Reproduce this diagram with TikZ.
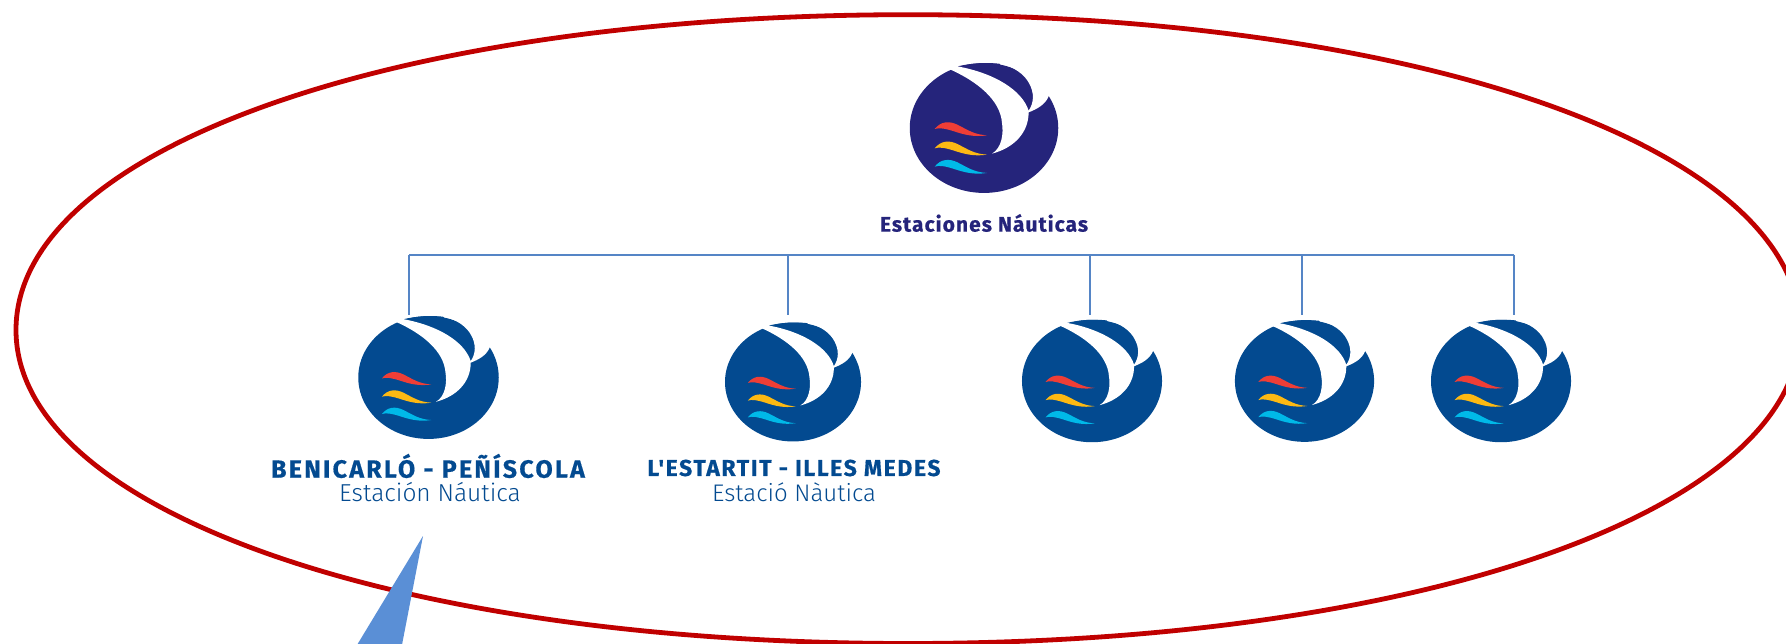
\documentclass[tikz,border=0pt]{standalone}
\usepackage{fontspec}
\setmainfont{Fira Sans}
\newfontfamily\lightfont{Fira Sans Light}
\newfontfamily\titlefont[LetterSpace=5,BoldFeatures={FakeBold=0.5}]{Fira Sans}
\newfontfamily\wideAfont[LetterSpace=9,BoldFeatures={FakeBold=0.5}]{Fira Sans}
\newfontfamily\wideBfont[LetterSpace=7,BoldFeatures={FakeBold=0.5}]{Fira Sans}
\definecolor{logonavy}{HTML}{25247B}
\definecolor{logoblue}{HTML}{034A90}
\definecolor{wavered}{HTML}{EF3E36}
\definecolor{waveyellow}{HTML}{FDB913}
\definecolor{wavecyan}{HTML}{00B9E8}
\definecolor{ringred}{HTML}{C00000}
\definecolor{busblue}{HTML}{5585C6}
\definecolor{pointerblue}{HTML}{5A8FD6}
\tikzset{
	busline/.style={busblue,line width=2pt},
	namelabel/.style={inner sep=0pt,text=logoblue},
	sublabel/.style={inner sep=0pt,text=logoblue},
	pics/logo/.style={code={
		\fill[#1] (0,0) ellipse [x radius=223, y radius=195];
		\fill[#1] (-79,-185) .. controls (-40,-195) and (10,-197) .. (47,-193) -- (100,-100) -- cycle;
		\fill[white] (-104,-177) -- (-86,-215) -- (-79,-185) .. controls (29,-165) and (114,-115) .. (134,-52)
			.. controls (150,-75) and (152,-105) .. (135,-135) .. controls (122,-160) and (90,-185) .. (47,-193)
			-- (47,-215) -- (225,-215) -- (225,-130) -- (194,-95)
			.. controls (184,-70) and (159,-57) .. (134,-47) .. controls (134,15) and (89,60) .. (24,77)
			.. controls (54,60) and (59,15) .. (54,-15) .. controls (49,-85) and (-21,-140) .. (-104,-177) -- cycle;
		\foreach \wavecolor/\waveshift in {wavered/0,waveyellow/58,wavecyan/113}
			\fill[\wavecolor,shift={(0,\waveshift)}] (-148,3) .. controls (-130,-20) and (-105,-22) .. (-80,-10)
				.. controls (-50,5) and (-30,20) .. (9,22) .. controls (-30,28) and (-60,20) .. (-90,10)
				.. controls (-115,2) and (-135,-2) .. (-148,3) -- cycle;
	}}
}
\begin{document}
\begin{tikzpicture}[x=1pt,y=-1pt]
	\path[use as bounding box,clip] (0,0) rectangle (1786,644);
	\draw[ringred,line width=4.8pt] (16,330) .. controls (16,148.7) and (395,14.7) .. (908,14.7)
		.. controls (1421,14.7) and (1800,148.7) .. (1800,330)
		.. controls (1800,510.3) and (1421,643.5) .. (908,643.5)
		.. controls (395,643.5) and (16,510.3) .. (16,330) -- cycle;
	\fill[pointerblue] (423,536) -- (354,650) -- (401,650) -- cycle;
	% logos
	\pic[scale=0.333] at (984,128) {logo=logonavy};
	\pic[scale=0.315] at (428.5,377.5) {logo=logoblue};
	\pic[scale=0.305] at (793,382) {logo=logoblue};
	\pic[scale=0.314] at (1092,381) {logo=logoblue};
	\pic[scale=0.312] at (1304.5,381) {logo=logoblue};
	\pic[scale=0.314] at (1501,381) {logo=logoblue};
	% labels
	\node[namelabel,text=logonavy,font=\titlefont\bfseries\fontsize{21}{21}\selectfont] (title) at (984,223) {Estaciones Náuticas};
	\node[namelabel,font=\wideAfont\bfseries\fontsize{25}{25}\selectfont] (nameA) at (428,466) {BENICARLÓ - PEÑÍSCOLA};
	\node[sublabel,font=\lightfont\fontsize{24.5}{24.5}\selectfont] (subA) at (430,492) {Estación Náutica};
	\node[namelabel,font=\wideBfont\bfseries\fontsize{23}{23}\selectfont] (nameB) at (794,468) {L'ESTARTIT - ILLES MEDES};
	\node[sublabel,font=\lightfont\fontsize{24}{24}\selectfont] (subB) at (794,492) {Estació Nàutica};
	% tree
	\coordinate (busA) at (409,255);
	\coordinate (busB) at (787.5,255);
	\coordinate (busC) at (1090,255);
	\coordinate (busD) at (1302,255);
	\coordinate (busE) at (1513.5,255);
	\coordinate (dropA) at (409,315);
	\coordinate (dropB) at (787.5,315);
	\coordinate (dropC) at (1090,315);
	\coordinate (dropD) at (1302,315);
	\coordinate (dropE) at (1513.5,315);
	\draw[busline] (busA) -- (busE);
	\foreach \busname in {A,B,C,D,E}
		\draw[busline] (bus\busname) -- (drop\busname);
\end{tikzpicture}
\end{document}
